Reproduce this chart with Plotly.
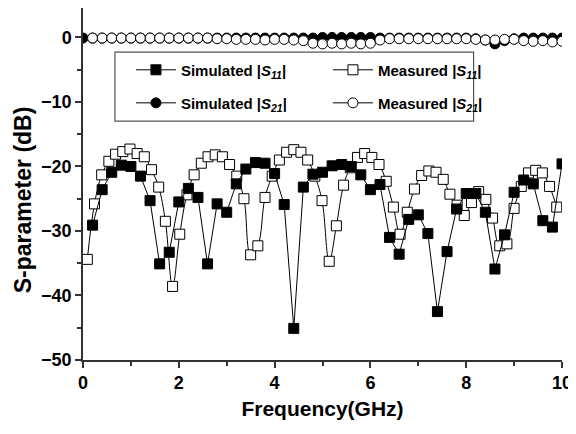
import plotly.graph_objects as go

# ---------------- data ----------------
sim_x = [0.2, 0.4, 0.6, 0.8, 1.0, 1.2, 1.4, 1.6, 1.8, 2.0,
         2.2, 2.4, 2.6, 2.8, 3.0, 3.2, 3.4, 3.6, 3.8, 4.0,
         4.2, 4.4, 4.6, 4.8, 5.0, 5.2, 5.4, 5.6, 5.8, 6.0,
         6.2, 6.4, 6.6, 6.8, 7.0, 7.2, 7.4, 7.6, 7.8, 8.0,
         8.2, 8.4, 8.6, 8.8, 9.0, 9.2, 9.4, 9.6, 9.8, 10.0]
sim_s11 = [-29.1, -23.6, -20.9, -19.8, -20.0, -21.5, -25.3, -35.1, -33.3, -25.5,
           -23.4, -24.8, -35.1, -25.8, -27.1, -22.7, -20.4, -19.4, -19.5, -21.1,
           -25.9, -45.1, -23.2, -21.2, -20.9, -19.9, -19.7, -20.0, -21.3, -23.6,
           -22.8, -31.0, -33.6, -28.2, -27.5, -30.4, -42.5, -33.2, -26.6, -24.2,
           -24.2, -27.1, -35.9, -30.6, -24.0, -22.1, -22.7, -28.4, -29.4, -19.6]

meas_x = [0.09, 0.24, 0.39, 0.54, 0.68, 0.83, 0.98, 1.13, 1.28, 1.43,
          1.58, 1.72, 1.87, 2.02, 2.17, 2.32, 2.47, 2.61, 2.76, 2.91,
          3.06, 3.21, 3.36, 3.50, 3.65, 3.80, 3.95, 4.10, 4.25, 4.40,
          4.55, 4.69, 4.84, 4.99, 5.14, 5.29, 5.44, 5.58, 5.73, 5.88,
          6.03, 6.18, 6.33, 6.48, 6.62, 6.77, 6.92, 7.07, 7.22, 7.37,
          7.52, 7.66, 7.81, 7.96, 8.11, 8.26, 8.41, 8.55, 8.70, 8.85,
          9.00, 9.15, 9.30, 9.45, 9.59, 9.74, 9.89]
meas_s11 = [-34.4, -25.8, -21.3, -19.2, -18.1, -17.7, -17.3, -18.0, -18.5, -20.5,
            -23.2, -28.5, -38.6, -30.5, -24.4, -21.3, -19.5, -18.5, -18.2, -18.5,
            -19.7, -21.5, -25.0, -33.7, -32.3, -24.8, -21.5, -19.0, -17.8, -17.4,
            -17.8, -19.0, -21.5, -25.3, -34.7, -29.2, -22.9, -20.2, -18.6, -18.0,
            -18.6, -19.7, -22.3, -26.3, -30.5, -27.1, -23.5, -21.4, -20.7, -20.9,
            -22.0, -24.3, -26.0, -27.6, -25.6, -23.9, -25.1, -28.0, -32.3, -32.0,
            -26.5, -23.1, -21.0, -20.6, -21.0, -23.1, -26.3]

sim21_x = [0.0, 0.2, 0.4, 0.6, 0.8, 1.0, 1.2, 1.4, 1.6, 1.8, 2.0,
           2.2, 2.4, 2.6, 2.8, 3.0, 3.2, 3.4, 3.6, 3.8, 4.0,
           4.2, 4.4, 4.6, 4.8, 5.0, 5.2, 5.4, 5.6, 5.8, 6.0,
           6.2, 6.4, 6.6, 6.8, 7.0, 7.2, 7.4, 7.6, 7.8, 8.0,
           8.2, 8.4, 8.6, 8.8, 9.0, 9.2, 9.4, 9.6, 9.8, 10.0]
sim_s21 = [-0.1, -0.1, -0.1, -0.1, -0.1, -0.1, -0.1, -0.1, -0.1, -0.1, -0.1,
           -0.1, -0.1, -0.1, -0.1, -0.1, -0.1, -0.1, -0.1, -0.1, -0.1,
           -0.1, -0.1, -0.1, -0.1, 0.0, 0.0, 0.0, 0.0, 0.0, 0.0,
           -0.1, -0.1, -0.1, -0.1, -0.1, -0.1, -0.1, -0.1, -0.1, -0.1,
           -0.2, -0.4, -1.0, -0.5, -0.2, -0.1, -0.1, -0.1, -0.1, -0.1]

meas21_x = [0.2, 0.4, 0.6, 0.8, 1.0, 1.2, 1.4, 1.6, 1.8, 2.0,
            2.2, 2.4, 2.6, 2.8, 3.0, 3.2, 3.4, 3.6, 3.8, 4.0,
            4.2, 4.4, 4.6, 4.8, 5.0, 5.2, 5.4, 5.6, 5.8, 6.0,
            6.2, 6.4, 6.6, 6.8, 7.0, 7.2, 7.4, 7.6, 7.8, 8.0,
            8.2, 8.4, 8.6, 8.8, 9.0, 9.2, 9.4, 9.6, 9.8, 10.0]
meas_s21 = [-0.1, -0.1, -0.1, -0.1, -0.1, -0.1, -0.1, -0.1, -0.1, -0.1,
            -0.1, -0.1, -0.1, -0.2, -0.2, -0.3, -0.3, -0.3, -0.4, -0.3,
            -0.3, -0.4, -0.5, -0.9, -1.0, -0.9, -1.0, -0.9, -1.0, -0.9,
            -0.4, -0.2, -0.2, -0.2, -0.2, -0.2, -0.2, -0.2, -0.2, -0.2,
            -0.3, -0.4, -0.4, -0.3, -0.3, -0.5, -0.6, -0.5, -0.7, -0.6]

x_ticks = [0, 2, 4, 6, 8, 10]
y_ticks = [-50, -40, -30, -20, -10, 0]
y_minor = [-45, -35, -25, -15, -5]

names = ["Simulated |<i>S</i><sub><i>11</i></sub>|",
         "Measured |<i>S</i><sub><i>11</i></sub>|",
         "Simulated |<i>S</i><sub><i>21</i></sub>|",
         "Measured |<i>S</i><sub><i>21</i></sub>|"]
x_title = "Frequency(GHz)"
y_title = "S-parameter (dB)"

FONT = "Liberation Sans, Arial, sans-serif"
BLACK = "#000000"
AX = "#333333"

fig = go.Figure()
# measured S11 (drawn first so simulated squares sit on top)
fig.add_trace(go.Scatter(
    x=meas_x, y=meas_s11, mode="lines+markers", name="<b>" + names[1] + "</b>",
    line=dict(color=BLACK, width=1, shape="spline", smoothing=1.1),
    marker=dict(symbol="square", size=10, color="white", line=dict(color=BLACK, width=1)),
    legend="legend", legendrank=2))
fig.add_trace(go.Scatter(
    x=sim_x, y=sim_s11, mode="lines+markers", name="<b>" + names[0] + "</b>",
    line=dict(color=BLACK, width=1),
    marker=dict(symbol="square", size=10, color=BLACK, line=dict(color=BLACK, width=1)),
    legend="legend", legendrank=1))
fig.add_trace(go.Scatter(
    x=sim21_x, y=sim_s21, mode="lines+markers", name="<b>" + names[2] + "</b>",
    line=dict(color=BLACK, width=1),
    marker=dict(symbol="circle", size=10, color=BLACK, line=dict(color=BLACK, width=1)),
    legend="legend2", legendrank=3))
fig.add_trace(go.Scatter(
    x=meas21_x, y=meas_s21, mode="lines+markers", name="<b>" + names[3] + "</b>",
    line=dict(color=BLACK, width=1, shape="spline", smoothing=1.1),
    marker=dict(symbol="circle", size=10, color="white", line=dict(color=BLACK, width=1)),
    legend="legend2", legendrank=4))

# The page body adds an 8px offset, so the figure is 8px smaller and all
# page coordinates below are converted accordingly.
OFF = 8
W, H = 576 - OFF, 434 - OFF
X0P, X1P = 83.0, 562.5          # page x of 0 and 10 GHz
Y0P, YBP = 8.0, 359.7           # page y of plot top and of -50 dB
L = X0P - OFF
R = W - (X1P - OFF)
T = Y0P - OFF
B = H - (YBP - OFF)
pw, ph = X1P - X0P, YBP - Y0P
y_top = (37.4 - Y0P) / ((YBP - 37.4) / 50.0)   # dB at plot top (0 dB at page y 37.4)

def px(xp):
    return (xp - X0P) / pw

def py(yp):
    return (YBP - yp) / ph

leg_common = dict(orientation="h", xanchor="left", yanchor="middle",
                  bgcolor="rgba(0,0,0,0)", borderwidth=0,
                  font=dict(family=FONT, size=15, color=BLACK),
                  entrywidth=142, entrywidthmode="pixels", itemwidth=40,
                  traceorder="normal")

fig.update_layout(
    template="none",
    width=W, height=H,
    margin=dict(l=L, r=R, t=T, b=B, pad=0),
    paper_bgcolor="white", plot_bgcolor="white",
    font=dict(family=FONT, color=BLACK),
    showlegend=True,
    legend=dict(x=px(131), y=py(70), **leg_common),
    legend2=dict(x=px(131), y=py(103), **leg_common),
    shapes=[dict(type="rect", xref="paper", yref="paper",
                 x0=px(115), x1=px(474), y0=py(121), y1=py(52),
                 line=dict(color="#555555", width=1.2), fillcolor="white", layer="below")],
    annotations=[dict(text="<b>" + y_title + "</b>", xref="paper", yref="paper",
                      x=px(23), y=py(200), xanchor="center", yanchor="middle",
                      textangle=-90, showarrow=False,
                      font=dict(family=FONT, size=23, color=BLACK))],
    xaxis=dict(range=[0, 10], tickvals=x_ticks, ticks="outside", ticklen=6,
               tickwidth=1.5, tickcolor=AX, automargin=False,
               minor=dict(dtick=1, ticks="outside", ticklen=4, tickwidth=1.5, tickcolor=AX),
               showline=True, linecolor=AX, linewidth=1.5, mirror=False,
               showgrid=False, zeroline=False,
               tickfont=dict(family=FONT, size=18, color=BLACK, weight="bold"),
               title=dict(text="<b>" + x_title + "</b>", font=dict(family=FONT, size=21, color=BLACK),
                          standoff=9)),
    yaxis=dict(range=[-50, y_top], tickvals=y_ticks, ticks="outside", ticklen=6,
               tickwidth=1.5, tickcolor=AX, automargin=False,
               minor=dict(tickvals=y_minor, ticks="outside", ticklen=4,
                          tickwidth=1.5, tickcolor=AX),
               showline=True, linecolor=AX, linewidth=1.5, mirror=False,
               showgrid=False, zeroline=False,
               tickfont=dict(family=FONT, size=18, color=BLACK, weight="bold")),
)

fig.write_html("out.html")
